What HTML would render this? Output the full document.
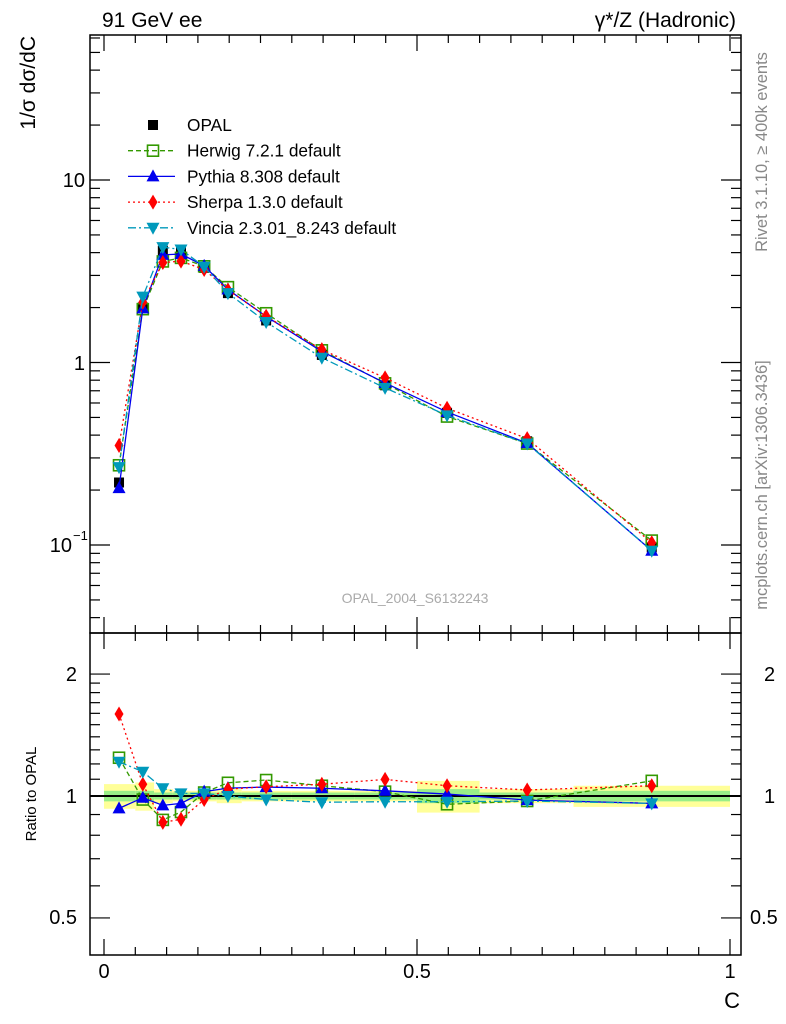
<!DOCTYPE html>
<html><head><meta charset="utf-8"><style>
body{margin:0;background:#fff}
svg{display:block;font-family:"Liberation Sans",sans-serif}
</style></head><body>
<svg id="c" width="786" height="1024" viewBox="0 0 786 1024"></svg>
<script>
const xs=[0.024,0.062,0.094,0.123,0.16,0.198,0.259,0.348,0.449,0.548,0.676,0.875];
const edges=[0,0.05,0.08,0.11,0.14,0.18,0.22,0.3,0.4,0.5,0.6,0.75,1.0];
const opal=[0.22,2.0,4.1,4.1,3.3,2.4,1.7,1.1,0.75,0.53,0.37,0.097];
const errYellow=[0.07,0.08,0.04,0.03,0.03,0.04,0.03,0.03,0.03,0.09,0.04,0.06];
const errGreen=[0.03,0.03,0.02,0.02,0.02,0.02,0.02,0.02,0.02,0.04,0.02,0.03];
const rHerwig=[1.243,0.98,0.873,0.913,1.02,1.078,1.095,1.06,1.025,0.954,0.972,1.09];
const rPythia=[0.932,0.99,0.948,0.959,1.025,1.046,1.052,1.045,1.03,1.011,0.977,0.959];
const rSherpa=[1.594,1.069,0.861,0.876,0.98,1.04,1.054,1.069,1.099,1.06,1.035,1.06];
const rVincia=[1.215,1.148,1.045,1.015,1.015,1.0,0.98,0.965,0.968,0.968,0.972,0.959];
const xTicks=[0,0.5,1];const xTickLabels=["0","0.5","1"];

const svg=document.getElementById('c');const NS='http://www.w3.org/2000/svg';
function el(t,a,p){const e=document.createElementNS(NS,t);for(const k in a)e.setAttribute(k,a[k]);(p||svg).appendChild(e);return e;}
function X(v){return 104+v*626;}
function YM(v){return 180-182.5*(Math.log10(v)-1);}
function YR(v){return 796-405*Math.log10(v);}
const L=90,R=741,T=35,M=633,B=955;

for(let i=0;i<xs.length;i++){
  const b1=el('rect',{x:X(edges[i]),y:YR(1+errYellow[i]),width:X(edges[i+1])-X(edges[i]),height:YR(1-errYellow[i])-YR(1+errYellow[i]),fill:'#ffff99'});
  
  
  const b2=el('rect',{x:X(edges[i]),y:YR(1+errGreen[i]),width:X(edges[i+1])-X(edges[i]),height:YR(1-errGreen[i])-YR(1+errGreen[i]),fill:'#99ee88'});
  
  
}
el('line',{x1:L,x2:R,y1:YR(1),y2:YR(1),stroke:'#000','stroke-width':2});

el('rect',{x:L,y:T,width:R-L,height:M-T,fill:'none',stroke:'#000','stroke-width':1.5});
el('rect',{x:L,y:M,width:R-L,height:B-M,fill:'none',stroke:'#000','stroke-width':1.5});

function tick(x1,y1,x2,y2){el('line',{x1,y1,x2,y2,stroke:'#000','stroke-width':1.2});}
for(let v=0;v<=1.0001;v+=0.05){
  const major=Math.abs(v*2-Math.round(v*2))<1e-6;const h=major?16:8;
  [T,M].forEach(y=>tick(X(v),y,X(v),y+h));
  [M,B].forEach(y=>tick(X(v),y,X(v),y-h));
}
for(let d=-2;d<=1;d++)for(let k=1;k<10;k++){const v=k*Math.pow(10,d);const y=YM(v);if(y<T||y>M)continue;const h=k==1?20:10;tick(L,y,L+h,y);tick(R,y,R-h,y);}
for(const v of [0.5,0.6,0.7,0.8,0.9,1,1.1,1.2,1.3,1.4,1.5,1.6,1.7,1.8,1.9,2]){const y=YR(v);const h=(v==0.5||v==1||v==2)?20:10;tick(L,y,L+h,y);tick(R,y,R-h,y);}

function txt(s,a,name){const t=el('text',a);t.textContent=s;return t;}
txt('10',{x:85,y:187,'font-size':20,'text-anchor':'end'},'y-tick-10');
txt('1',{x:85,y:370,'font-size':20,'text-anchor':'end'},'y-tick-1');
const tm=txt('10',{x:72,y:552,'font-size':20,'text-anchor':'end'},'y-tick-0.1');
const sp=el('tspan',{x:73,y:540,'font-size':13,'text-anchor':'start'},tm);sp.textContent='−1';
txt('2',{x:77,y:681,'font-size':20,'text-anchor':'end'},'ratio-tick-2');
txt('1',{x:77,y:803,'font-size':20,'text-anchor':'end'},'ratio-tick-1');
txt('0.5',{x:77,y:924,'font-size':20,'text-anchor':'end'},'ratio-tick-0.5');
txt('2',{x:764,y:681,'font-size':20},'ratio-tick-2-right');
txt('1',{x:764,y:803,'font-size':20},'ratio-tick-1-right');
txt('0.5',{x:750,y:924,'font-size':20},'ratio-tick-0.5-right');
xTicks.forEach((v,i)=>txt(xTickLabels[i],{x:X(v),y:978,'font-size':20,'text-anchor':'middle'},'x-tick-label'));
txt('C',{x:740,y:1008,'font-size':22,'text-anchor':'end'},'x-axis-title');
txt('91 GeV ee',{x:102,y:27,'font-size':21},'title-left');
txt('γ*/Z (Hadronic)',{x:736,y:27,'font-size':21,'text-anchor':'end'},'title-right');
txt('1/σ dσ/dC',{x:0,y:0,'font-size':21,'text-anchor':'end',transform:'translate(35,36) rotate(-90)'},'y-axis-title');
txt('Ratio to OPAL',{x:0,y:0,'font-size':15,'text-anchor':'middle',transform:'translate(36,794) rotate(-90)'},'ratio-axis-title');
txt('Rivet 3.1.10, ≥ 400k events',{x:0,y:0,'font-size':16.5,fill:'#888','text-anchor':'middle',transform:'translate(767,152) rotate(-90)'},'rivet-label');
txt('mcplots.cern.ch [arXiv:1306.3436]',{x:0,y:0,'font-size':16.5,fill:'#888','text-anchor':'middle',transform:'translate(767,485) rotate(-90)'},'mcplots-label');
txt('OPAL_2004_S6132243',{x:415,y:603,'font-size':14,fill:'#aaa','text-anchor':'middle'},'analysis-id');

function marker(type,x,y,col,g){
  if(type=='sq')el('rect',{x:x-5,y:y-5,width:10,height:10,fill:'#000'},g);
  if(type=='osq')el('rect',{x:x-5.5,y:y-5.5,width:11,height:11,fill:'none',stroke:col,'stroke-width':1.6},g);
  if(type=='tri')el('polygon',{points:`${x},${y-7} ${x-6.5},${y+5} ${x+6.5},${y+5}`,fill:col},g);
  if(type=='dia')el('polygon',{points:`${x},${y-7.5} ${x-4.5},${y} ${x},${y+7.5} ${x+4.5},${y}`,fill:col},g);
  if(type=='itri')el('polygon',{points:`${x},${y+7} ${x-6.5},${y-5} ${x+6.5},${y-5}`,fill:col},g);
}
const go=el('g',{});


xs.forEach((x,i)=>marker('sq',X(x),YM(opal[i]),'#000',go));

const series=[
 {name:'herwig',r:rHerwig,col:'#339900',dash:'5,3',m:'osq'},
 {name:'pythia',r:rPythia,col:'#0000ee',dash:'',m:'tri'},
 {name:'sherpa',r:rSherpa,col:'#ff0000',dash:'2,3',m:'dia'},
 {name:'vincia',r:rVincia,col:'#0099bb',dash:'8,3,2,3',m:'itri'}
];
series.forEach(s=>{
  const g=el('g',{});
  
  
  const pm=xs.map((x,i)=>X(x)+','+YM(opal[i]*s.r[i])).join(' ');
  el('polyline',{points:pm,fill:'none',stroke:s.col,'stroke-width':1.3,'stroke-dasharray':s.dash},g);
  xs.forEach((x,i)=>marker(s.m,X(x),YM(opal[i]*s.r[i]),s.col,g));
  const gr=el('g',{});
  
  
  const pr=xs.map((x,i)=>X(x)+','+YR(s.r[i])).join(' ');
  el('polyline',{points:pr,fill:'none',stroke:s.col,'stroke-width':1.3,'stroke-dasharray':s.dash},gr);
  xs.forEach((x,i)=>marker(s.m,X(x),YR(s.r[i]),s.col,gr));
});

const leg=[['OPAL','#000','','sq'],['Herwig 7.2.1 default','#339900','5,3','osq'],['Pythia 8.308 default','#0000ee','','tri'],['Sherpa 1.3.0 default','#ff0000','2,3','dia'],['Vincia 2.3.01_8.243 default','#0099bb','8,3,2,3','itri']];
leg.forEach((l,i)=>{
  const y=125+i*25.7;const g=el('g',{});
  
  
  if(i>0)el('line',{x1:128,x2:175,y1:y,y2:y,stroke:l[1],'stroke-width':1.3,'stroke-dasharray':l[2]},g);
  marker(l[3],153,y,l[1],g);
  const t=el('text',{x:187,y:y+6,'font-size':17.3},g);t.textContent=l[0];
});
</script>
</body></html>
